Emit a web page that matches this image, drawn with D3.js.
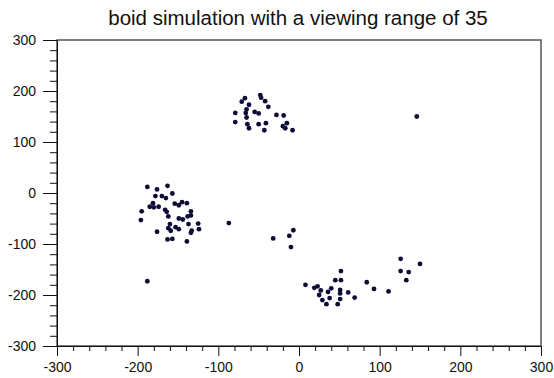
<!DOCTYPE html>
<html>
<head>
<meta charset="utf-8">
<script src="https://cdn.jsdelivr.net/npm/d3@7"></script>
<style>
  body { margin: 0; background: #fff; }
  text { font-family: "Liberation Sans", Arial, Helvetica, sans-serif; }
</style>
</head>
<body>
<div id="chart"></div>
<script>

var title = "boid simulation with a viewing range of 35";

// boid positions
var boidX = [-188, -176, -163, -157, -178, -170, -165, -181, -185, -180, -174, -154, -149, -145, -139,
    -195, -166, -164, -134, -196, -162, -149, -144, -138, -134, -160, -137, -125, -153, -149, -162,
    -159, -133, -134, -124, -176, -163, -157, -139, -87, -188,
    -48, -47, -67, -71, -42, -62, -38, -65, -79, -66, -55, -50, -28, -19, -65, -79, -64, -50, -41,
    -15, -20, -17, -62, -43, -8,
    -7, -12, -32, -10,
    126, 126, 136, 150, 133, 52, 45, 52, 84, 8, 19, 23, 27, 40, 36, 51, 51, 61, 93, 111, 25, 38,
    51, 69, 29, 34, 48,
    146];
var boidY = [12, 7, 14, -1, -6, -6, -10, -20, -27, -28, -27, -21, -24, -18, -20,
    -36, -33, -37, -36, -53, -46, -50, -52, -46, -44, -61, -61, -60, -67, -71, -69,
    -74, -74, -78, -71, -76, -91, -90, -95, -59, -173,
    192, 187, 186, 179, 180, 173, 169, 164, 157, 157, 159, 156, 153, 152, 148, 139, 135, 135, 137,
    137, 131, 127, 127, 123, 123,
    -73, -84, -89, -106,
    -129, -153, -155, -139, -171, -153, -171, -171, -175, -180, -186, -183, -191, -187, -194, -190, -197, -195, -188, -193, -200, -206,
    -208, -205, -210, -218, -218,
    150];

var xTicks = [-300, -200, -100, 0, 100, 200, 300];
var yTicks = [-300, -200, -100, 0, 100, 200, 300];
var minorStep = 20;

var margin = { top: 40, right: 13, bottom: 32, left: 57 };
var width = 554 - margin.left - margin.right;
var height = 378 - margin.top - margin.bottom;

var svg = d3.select("#chart").append("svg")
    .attr("width", 554)
    .attr("height", 378);

svg.append("text")
    .attr("x", margin.left + width / 2 - 1)
    .attr("y", 25)
    .attr("text-anchor", "middle")
    .style("font-size", "20.5px")
    .attr("fill", "#111")
    .text(title);

var g = svg.append("g")
    .attr("transform", "translate(" + margin.left + "," + margin.top + ")");

var x = d3.scaleLinear().domain([-300, 300]).range([0, width]);
var y = d3.scaleLinear().domain([-300, 300]).range([height, 0]);

var minorTicks = d3.range(-300, 301, minorStep).filter(d => d % 100 !== 0);

g.append("rect")
    .attr("width", width)
    .attr("height", height)
    .attr("fill", "none")
    .attr("stroke", "#555")
    .attr("stroke-width", 1.5);

// minor ticks
g.append("g")
    .attr("transform", "translate(0," + height + ")")
    .call(d3.axisBottom(x).tickValues(minorTicks).tickSize(5).tickFormat(""))
    .call(a => a.select(".domain").remove());

g.append("g")
    .call(d3.axisLeft(y).tickValues(minorTicks).tickSize(7).tickFormat(""))
    .call(a => a.select(".domain").remove());

// major ticks, plain hyphen for negatives like the original
var xAxis = g.append("g")
    .attr("transform", "translate(0," + height + ")")
    .call(d3.axisBottom(x).tickValues(xTicks).tickSize(10).tickPadding(6).tickSizeOuter(0)
        .tickFormat(d => String(d)));

var yAxis = g.append("g")
    .call(d3.axisLeft(y).tickValues(yTicks).tickSize(14).tickPadding(7).tickSizeOuter(0)
        .tickFormat(d => String(d)));

g.selectAll(".tick text")
    .style("font-size", "14px")
    .attr("fill", "#111");

g.selectAll(".tick line").attr("stroke", "#111");
g.selectAll(".domain").attr("stroke", "#111");

var boids = boidX.map((d, i) => ({ x: d, y: boidY[i] }));

g.selectAll("circle")
    .data(boids)
    .enter()
    .append("circle")
    .attr("cx", d => x(d.x))
    .attr("cy", d => y(d.y))
    .attr("r", 2.4)
    .attr("fill", "#0c0c36");

</script>
</body>
</html>
